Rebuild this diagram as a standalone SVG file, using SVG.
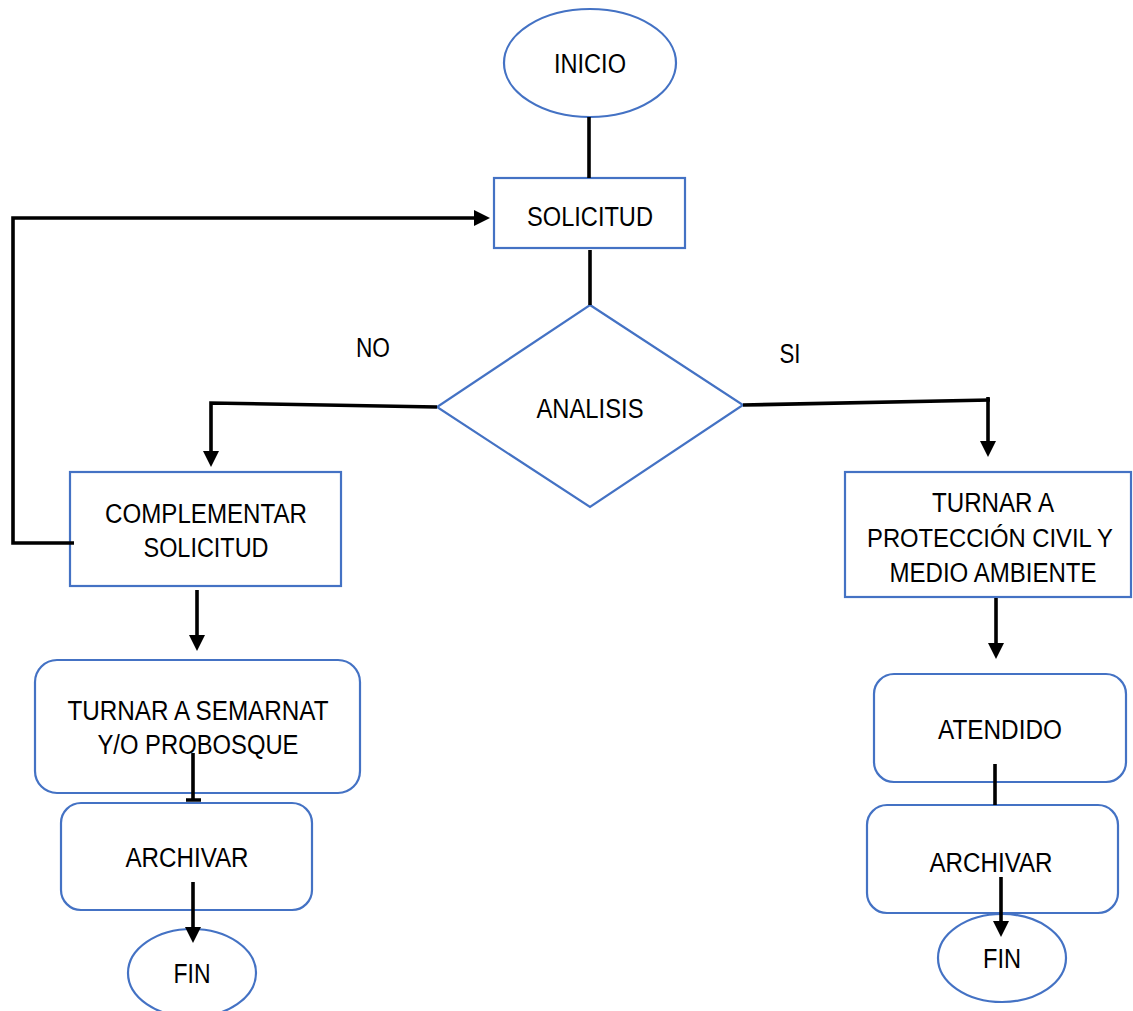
<svg xmlns="http://www.w3.org/2000/svg" width="1133" height="1011" viewBox="0 0 1133 1011">
<style>
.shape{fill:#ffffff;stroke:#4472C4;stroke-width:2.2}
.lbl{font-family:"Liberation Sans",Arial,sans-serif;font-size:27px;fill:#000;text-anchor:middle}
.conn{fill:none;stroke:#000;stroke-width:3.6}
</style>
<defs>
<marker id="arr" viewBox="0 -8 16 16" refX="0" refY="0" markerWidth="16" markerHeight="16" markerUnits="userSpaceOnUse" orient="auto">
<path d="M0,-8 L16,0 L0,8 z" fill="#000"/>
</marker>
</defs>
<rect width="1133" height="1011" fill="#ffffff"/>
<g id="inicio">
<ellipse class="shape" cx="590" cy="63" rx="86" ry="54"/>
<text class="lbl" x="590" y="73" textLength="72" lengthAdjust="spacingAndGlyphs">INICIO</text>
</g>
<g id="solicitud">
<rect class="shape" x="494" y="178" width="191" height="70"/>
<text class="lbl" x="590" y="226" textLength="126" lengthAdjust="spacingAndGlyphs">SOLICITUD</text>
</g>
<g id="analisis">
<polygon class="shape" points="590,305 743,405 590,507 437,407"/>
<text class="lbl" x="590" y="418" textLength="107" lengthAdjust="spacingAndGlyphs">ANALISIS</text>
</g>
<g id="label-no">
<text class="lbl" x="373" y="357" textLength="34" lengthAdjust="spacingAndGlyphs">NO</text>
</g>
<g id="label-si">
<text class="lbl" x="790" y="363" textLength="21" lengthAdjust="spacingAndGlyphs">SI</text>
</g>
<g id="complementar">
<rect class="shape" x="70" y="472" width="271" height="114"/>
<text class="lbl" x="206" y="523" textLength="202" lengthAdjust="spacingAndGlyphs">COMPLEMENTAR</text>
<text class="lbl" x="206" y="557" textLength="125" lengthAdjust="spacingAndGlyphs">SOLICITUD</text>
</g>
<g id="turnar-semarnat">
<rect class="shape" x="35" y="660" width="325" height="133" rx="22" ry="22"/>
<text class="lbl" x="198" y="720" textLength="261" lengthAdjust="spacingAndGlyphs">TURNAR A SEMARNAT</text>
<text class="lbl" x="198" y="754" textLength="201" lengthAdjust="spacingAndGlyphs">Y/O PROBOSQUE</text>
</g>
<g id="archivar-izq">
<rect class="shape" x="61" y="803" width="251" height="107" rx="20" ry="20"/>
<text class="lbl" x="187" y="867" textLength="123" lengthAdjust="spacingAndGlyphs">ARCHIVAR</text>
</g>
<g id="fin-izq">
<ellipse class="shape" cx="192" cy="973" rx="64" ry="44"/>
<text class="lbl" x="192" y="983" textLength="37" lengthAdjust="spacingAndGlyphs">FIN</text>
</g>
<g id="turnar-proteccion">
<rect class="shape" x="845" y="472" width="286" height="125"/>
<text class="lbl" x="993" y="512" textLength="122" lengthAdjust="spacingAndGlyphs">TURNAR A</text>
<text class="lbl" x="990" y="547" style="font-size:25px" textLength="246" lengthAdjust="spacingAndGlyphs">PROTECCIÓN CIVIL Y</text>
<text class="lbl" x="993" y="582" textLength="207" lengthAdjust="spacingAndGlyphs">MEDIO AMBIENTE</text>
</g>
<g id="atendido">
<rect class="shape" x="874" y="674" width="252" height="108" rx="20" ry="20"/>
<text class="lbl" x="1000" y="739" textLength="124" lengthAdjust="spacingAndGlyphs">ATENDIDO</text>
</g>
<g id="archivar-der">
<rect class="shape" x="867" y="805" width="251" height="108" rx="20" ry="20"/>
<text class="lbl" x="991" y="872" textLength="123" lengthAdjust="spacingAndGlyphs">ARCHIVAR</text>
</g>
<g id="fin-der">
<ellipse class="shape" cx="1002" cy="958" rx="64" ry="44"/>
<text class="lbl" x="1002" y="968" textLength="38" lengthAdjust="spacingAndGlyphs">FIN</text>
</g>
<g id="connectors">
<path class="conn" d="M589,117 V178"/>
<path class="conn" d="M590,250 V305"/>
<path class="conn" d="M437,407 L211,403 V451" marker-end="url(#arr)"/>
<path class="conn" d="M743,405 L990,400"/>
<path class="conn" d="M988,397 V441" marker-end="url(#arr)"/>
<path class="conn" d="M74,543 H13 V218 H474" marker-end="url(#arr)"/>
<path class="conn" d="M197,590 V635" marker-end="url(#arr)"/>
<path class="conn" d="M193,753 V800 M186,800 H201"/>
<path class="conn" d="M193,882 V927" marker-end="url(#arr)"/>
<path class="conn" d="M996,598 V643" marker-end="url(#arr)"/>
<path class="conn" d="M995,764 V805"/>
<path class="conn" d="M1001,877 V921" marker-end="url(#arr)"/>
</g>
</svg>
